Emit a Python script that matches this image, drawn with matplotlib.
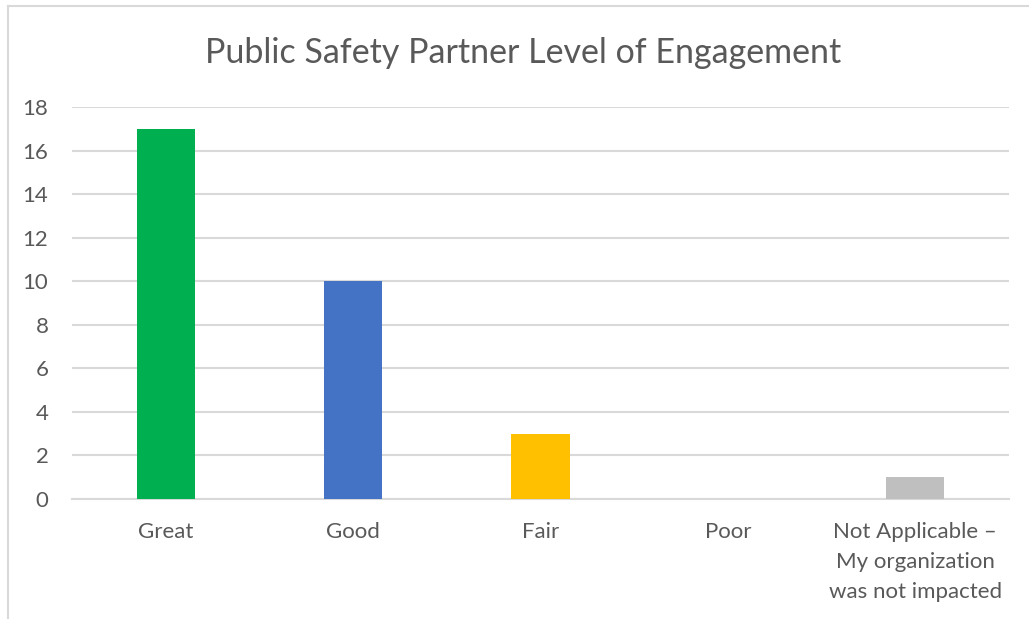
#!/usr/bin/env python3

import matplotlib
matplotlib.use("Agg")
import matplotlib.pyplot as plt
from matplotlib.lines import Line2D

# chart data
categories = ["Great", "Good", "Fair", "Poor",
              "Not Applicable \u2013\nMy organization\nwas not impacted"]
counts = [17, 10, 3, 0, 1]
colors = ["#00b050", "#4472c4", "#ffc000", "#a5a5a5", "#bfbfbf"]
yticks = [0, 2, 4, 6, 8, 10, 12, 14, 16, 18]

text_color = "#595959"
grid_color = "#d9d9d9"

plt.rcParams['font.family'] = ['Lato', 'DejaVu Sans']

fig = plt.figure(figsize=(10.29, 6.19), dpi=100)
ax = fig.add_axes([0.070, 0.1939, 0.9106, 0.6332])

x = list(range(len(categories)))
ax.bar(x, counts, width=0.31, color=colors, zorder=3)

ax.set_xlim(-0.5, len(categories) - 0.5)
ax.set_ylim(0, 18)
ax.set_yticks(yticks)
ax.set_xticks(x)
ax.set_xticklabels(categories, linespacing=1.62)

ax.grid(axis="y", color=grid_color, linewidth=1.5, zorder=0)
for side in ["top", "right", "left"]:
	ax.spines[side].set_visible(False)
ax.spines["bottom"].set_color(grid_color)
ax.spines["bottom"].set_linewidth(1.5)
ax.tick_params(axis="both", length=0, labelsize=16, colors=text_color)
ax.tick_params(axis="x", pad=16.5)
ax.tick_params(axis="y", pad=17)
for lbl in ax.get_yticklabels():
	lbl.set_horizontalalignment("right")

fig.text(0.508, 0.915, "Public Safety Partner Level of Engagement",
	ha="center", va="center", fontsize=24.5, color=text_color)

# chart frame (only left and top edges are visible in the crop)
fig.add_artist(Line2D([0.0075, 0.0075], [0.0, 0.9895], transform=fig.transFigure,
	color="#d9d9d9", linewidth=1.5))
fig.add_artist(Line2D([0.0075, 1.0], [0.9895, 0.9895], transform=fig.transFigure,
	color="#d9d9d9", linewidth=1.5))

plt.savefig("out.png", dpi=100)
plt.close()
